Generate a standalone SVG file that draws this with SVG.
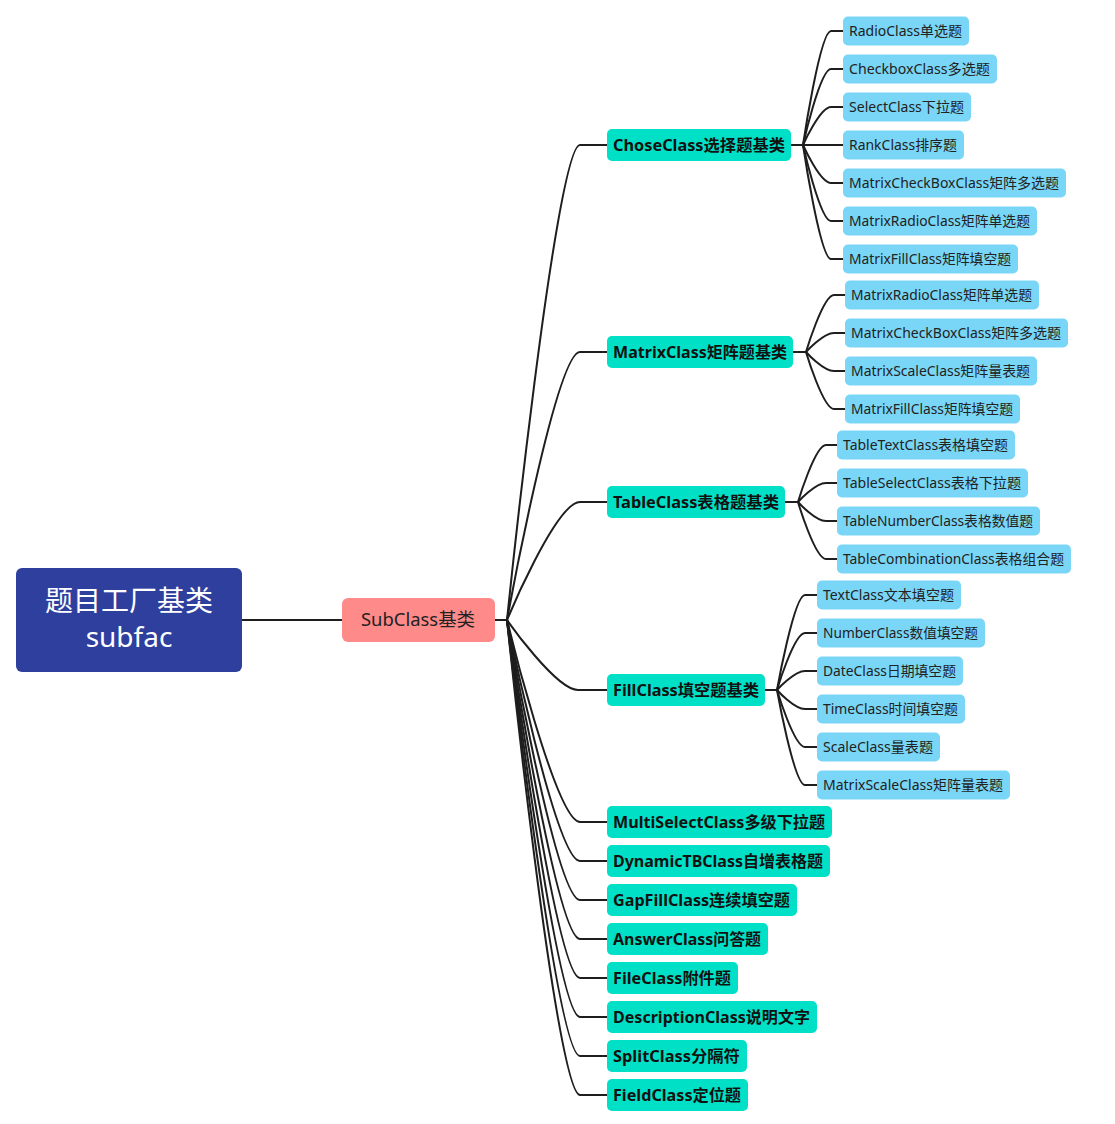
<svg xmlns="http://www.w3.org/2000/svg" width="1115" height="1124" viewBox="0 0 1115 1124">
<style>
.c{fill:none;stroke:#1e1e1e;stroke-width:2}
.root{fill:#2E3F9E}
.sub{fill:#FF8A8A}
.l2{fill:#00E0C6}
.lf{fill:#79D6F6}
text{font-family:"Noto Sans","Noto Sans CJK SC",sans-serif}
.tr{fill:#fff;font-size:28px;text-anchor:middle}
.ts{fill:#222;font-size:18px}
.t2{fill:#111;font-size:16px;font-weight:bold}
.tl{fill:#222;font-size:14px}
</style>
<rect width="1115" height="1124" fill="#fff"/>
<g id="connectors">
<path class="c" d="M242,620H342M495,620H507"/>
<path class="c" d="M507,620C507,620 556,145 580,145H607"/>
<path class="c" d="M507,620C507,620 556,352 580,352H607"/>
<path class="c" d="M507,620C507,620 556,502 580,502H607"/>
<path class="c" d="M507,620C507,620 556,690 578,690H607"/>
<path class="c" d="M507,620C507,620 556,822 580,822H607"/>
<path class="c" d="M507,620C507,620 556,861 580,861H607"/>
<path class="c" d="M507,620C507,620 556,900 580,900H607"/>
<path class="c" d="M507,620C507,620 556,939 580,939H607"/>
<path class="c" d="M507,620C507,620 556,978 580,978H607"/>
<path class="c" d="M507,620C507,620 556,1017 580,1017H607"/>
<path class="c" d="M507,620C507,620 556,1056 580,1056H607"/>
<path class="c" d="M507,620C507,620 556,1095 580,1095H607"/>
<path class="c" d="M791,145H803"/>
<path class="c" d="M803,145C803,145 820,31 831,31H843"/>
<path class="c" d="M803,145C803,145 820,69 831,69H843"/>
<path class="c" d="M803,145C803,145 820,107 831,107H843"/>
<path class="c" d="M803,145H843"/>
<path class="c" d="M803,145C803,145 820,183 831,183H843"/>
<path class="c" d="M803,145C803,145 820,221 831,221H843"/>
<path class="c" d="M803,145C803,145 820,259 831,259H843"/>
<path class="c" d="M793,352H806"/>
<path class="c" d="M806,352C806,352 823,295 834,295H845"/>
<path class="c" d="M806,352C806,352 823,333 834,333H845"/>
<path class="c" d="M806,352C806,352 823,371 834,371H845"/>
<path class="c" d="M806,352C806,352 823,409 834,409H845"/>
<path class="c" d="M785,502H798"/>
<path class="c" d="M798,502C798,502 815,445 826,445H837"/>
<path class="c" d="M798,502C798,502 815,483 826,483H837"/>
<path class="c" d="M798,502C798,502 815,521 826,521H837"/>
<path class="c" d="M798,502C798,502 815,559 826,559H837"/>
<path class="c" d="M765,690H777"/>
<path class="c" d="M777,690C777,690 794,595 805,595H817"/>
<path class="c" d="M777,690C777,690 794,633 805,633H817"/>
<path class="c" d="M777,690C777,690 794,671 805,671H817"/>
<path class="c" d="M777,690C777,690 794,709 805,709H817"/>
<path class="c" d="M777,690C777,690 794,747 805,747H817"/>
<path class="c" d="M777,690C777,690 794,785 805,785H817"/>
</g>
<g id="root"><rect class="root" x="16" y="568" width="226" height="104" rx="6"/><text class="tr" x="129" y="611">题目工厂基类</text><text class="tr" x="129" y="647">subfac</text></g>
<g id="subclass"><rect class="sub" x="342" y="598" width="153" height="44" rx="6"/><text class="ts" x="361" y="626" textLength="114" lengthAdjust="spacingAndGlyphs">SubClass基类</text></g>
<g id="n-chose"><rect class="l2" x="607" y="129" width="184" height="32" rx="5"/><text class="t2" x="613" y="151" textLength="172" lengthAdjust="spacingAndGlyphs">ChoseClass选择题基类</text></g>
<g id="n-matrix"><rect class="l2" x="607" y="336" width="186" height="32" rx="5"/><text class="t2" x="613" y="358" textLength="174" lengthAdjust="spacingAndGlyphs">MatrixClass矩阵题基类</text></g>
<g id="n-table"><rect class="l2" x="607" y="486" width="178" height="32" rx="5"/><text class="t2" x="613" y="508" textLength="166" lengthAdjust="spacingAndGlyphs">TableClass表格题基类</text></g>
<g id="n-fill"><rect class="l2" x="607" y="674" width="158" height="32" rx="5"/><text class="t2" x="613" y="696" textLength="146" lengthAdjust="spacingAndGlyphs">FillClass填空题基类</text></g>
<g id="n-multiselect"><rect class="l2" x="607" y="806" width="225" height="32" rx="5"/><text class="t2" x="613" y="828" textLength="212" lengthAdjust="spacingAndGlyphs">MultiSelectClass多级下拉题</text></g>
<g id="n-dynamictb"><rect class="l2" x="607" y="845" width="223" height="32" rx="5"/><text class="t2" x="613" y="867" textLength="210" lengthAdjust="spacingAndGlyphs">DynamicTBClass自增表格题</text></g>
<g id="n-gapfill"><rect class="l2" x="607" y="884" width="190" height="32" rx="5"/><text class="t2" x="613" y="906" textLength="177" lengthAdjust="spacingAndGlyphs">GapFillClass连续填空题</text></g>
<g id="n-answer"><rect class="l2" x="607" y="923" width="161" height="32" rx="5"/><text class="t2" x="613" y="945" textLength="148" lengthAdjust="spacingAndGlyphs">AnswerClass问答题</text></g>
<g id="n-file"><rect class="l2" x="607" y="962" width="131" height="32" rx="5"/><text class="t2" x="613" y="984" textLength="118" lengthAdjust="spacingAndGlyphs">FileClass附件题</text></g>
<g id="n-description"><rect class="l2" x="607" y="1001" width="210" height="32" rx="5"/><text class="t2" x="613" y="1023" textLength="197" lengthAdjust="spacingAndGlyphs">DescriptionClass说明文字</text></g>
<g id="n-split"><rect class="l2" x="607" y="1040" width="140" height="32" rx="5"/><text class="t2" x="613" y="1062" textLength="127" lengthAdjust="spacingAndGlyphs">SplitClass分隔符</text></g>
<g id="n-field"><rect class="l2" x="607" y="1079" width="141" height="32" rx="5"/><text class="t2" x="613" y="1101" textLength="128" lengthAdjust="spacingAndGlyphs">FieldClass定位题</text></g>
<g id="c-radio"><rect class="lf" x="843" y="16.5" width="126" height="29" rx="5"/><text class="tl" x="849" y="36" textLength="113" lengthAdjust="spacingAndGlyphs">RadioClass单选题</text></g>
<g id="c-checkbox"><rect class="lf" x="843" y="54.5" width="154" height="29" rx="5"/><text class="tl" x="849" y="74" textLength="141" lengthAdjust="spacingAndGlyphs">CheckboxClass多选题</text></g>
<g id="c-select"><rect class="lf" x="843" y="92.5" width="128" height="29" rx="5"/><text class="tl" x="849" y="112" textLength="115" lengthAdjust="spacingAndGlyphs">SelectClass下拉题</text></g>
<g id="c-rank"><rect class="lf" x="843" y="130.5" width="121" height="29" rx="5"/><text class="tl" x="849" y="150" textLength="108" lengthAdjust="spacingAndGlyphs">RankClass排序题</text></g>
<g id="c-mcb"><rect class="lf" x="843" y="168.5" width="223" height="29" rx="5"/><text class="tl" x="849" y="188" textLength="210" lengthAdjust="spacingAndGlyphs">MatrixCheckBoxClass矩阵多选题</text></g>
<g id="c-mr"><rect class="lf" x="843" y="206.5" width="194" height="29" rx="5"/><text class="tl" x="849" y="226" textLength="181" lengthAdjust="spacingAndGlyphs">MatrixRadioClass矩阵单选题</text></g>
<g id="c-mf"><rect class="lf" x="843" y="244.5" width="175" height="29" rx="5"/><text class="tl" x="849" y="264" textLength="162" lengthAdjust="spacingAndGlyphs">MatrixFillClass矩阵填空题</text></g>
<g id="m-mr"><rect class="lf" x="845" y="280.5" width="194" height="29" rx="5"/><text class="tl" x="851" y="300" textLength="181" lengthAdjust="spacingAndGlyphs">MatrixRadioClass矩阵单选题</text></g>
<g id="m-mcb"><rect class="lf" x="845" y="318.5" width="223" height="29" rx="5"/><text class="tl" x="851" y="338" textLength="210" lengthAdjust="spacingAndGlyphs">MatrixCheckBoxClass矩阵多选题</text></g>
<g id="m-ms"><rect class="lf" x="845" y="356.5" width="192" height="29" rx="5"/><text class="tl" x="851" y="376" textLength="179" lengthAdjust="spacingAndGlyphs">MatrixScaleClass矩阵量表题</text></g>
<g id="m-mf"><rect class="lf" x="845" y="394.5" width="175" height="29" rx="5"/><text class="tl" x="851" y="414" textLength="162" lengthAdjust="spacingAndGlyphs">MatrixFillClass矩阵填空题</text></g>
<g id="t-text"><rect class="lf" x="837" y="430.5" width="178" height="29" rx="5"/><text class="tl" x="843" y="450" textLength="165" lengthAdjust="spacingAndGlyphs">TableTextClass表格填空题</text></g>
<g id="t-select"><rect class="lf" x="837" y="468.5" width="191" height="29" rx="5"/><text class="tl" x="843" y="488" textLength="178" lengthAdjust="spacingAndGlyphs">TableSelectClass表格下拉题</text></g>
<g id="t-number"><rect class="lf" x="837" y="506.5" width="203" height="29" rx="5"/><text class="tl" x="843" y="526" textLength="190" lengthAdjust="spacingAndGlyphs">TableNumberClass表格数值题</text></g>
<g id="t-comb"><rect class="lf" x="837" y="544.5" width="234" height="29" rx="5"/><text class="tl" x="843" y="564" textLength="221" lengthAdjust="spacingAndGlyphs">TableCombinationClass表格组合题</text></g>
<g id="f-text"><rect class="lf" x="817" y="580.5" width="144" height="29" rx="5"/><text class="tl" x="823" y="600" textLength="131" lengthAdjust="spacingAndGlyphs">TextClass文本填空题</text></g>
<g id="f-number"><rect class="lf" x="817" y="618.5" width="168" height="29" rx="5"/><text class="tl" x="823" y="638" textLength="155" lengthAdjust="spacingAndGlyphs">NumberClass数值填空题</text></g>
<g id="f-date"><rect class="lf" x="817" y="656.5" width="146" height="29" rx="5"/><text class="tl" x="823" y="676" textLength="133" lengthAdjust="spacingAndGlyphs">DateClass日期填空题</text></g>
<g id="f-time"><rect class="lf" x="817" y="694.5" width="148" height="29" rx="5"/><text class="tl" x="823" y="714" textLength="135" lengthAdjust="spacingAndGlyphs">TimeClass时间填空题</text></g>
<g id="f-scale"><rect class="lf" x="817" y="732.5" width="123" height="29" rx="5"/><text class="tl" x="823" y="752" textLength="110" lengthAdjust="spacingAndGlyphs">ScaleClass量表题</text></g>
<g id="f-ms"><rect class="lf" x="817" y="770.5" width="193" height="29" rx="5"/><text class="tl" x="823" y="790" textLength="180" lengthAdjust="spacingAndGlyphs">MatrixScaleClass矩阵量表题</text></g>
</svg>
